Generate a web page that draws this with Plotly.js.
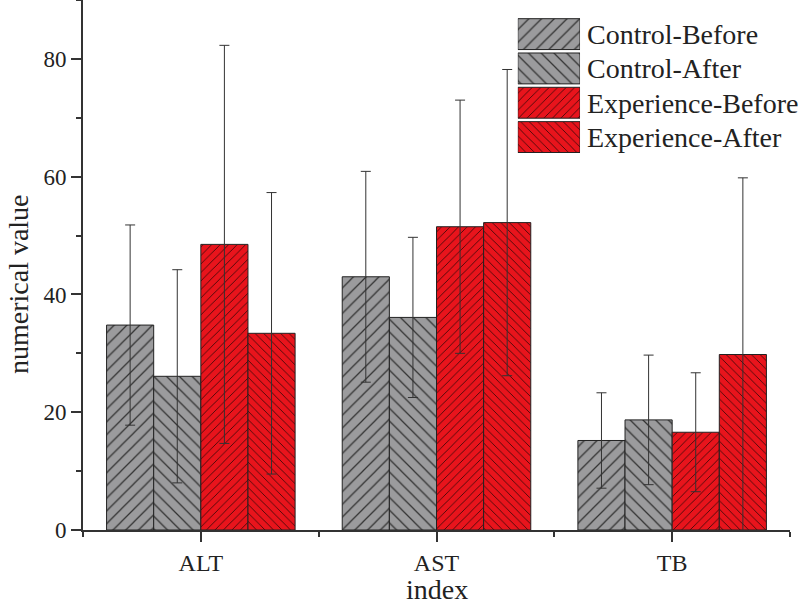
<!DOCTYPE html>
<html>
<head>
<meta charset="utf-8">
<script src="https://cdn.plot.ly/plotly-3.0.1.min.js"></script>
<style>html,body{margin:0;padding:0;background:#fff;}#chart{width:800px;height:600px;}</style>
</head>
<body>
<div id="chart"></div>
<script>
// ---- data ----
var categories = ['ALT', 'AST', 'TB'];
var seriesNames = ['Control-Before', 'Control-After', 'Experience-Before', 'Experience-After'];
var controlBefore = [34.8, 43.0, 15.2];
var controlBeforeErr = [17.0, 17.9, 8.1];
var controlAfter = [26.1, 36.1, 18.7];
var controlAfterErr = [18.1, 13.6, 11.0];
var experienceBefore = [48.5, 51.5, 16.6];
var experienceBeforeErr = [33.8, 21.5, 10.1];
var experienceAfter = [33.4, 52.2, 29.8];
var experienceAfterErr = [23.9, 26.0, 30.0];
var yTickVals = [0, 20, 40, 60, 80];
var xTitle = 'index';
var yTitle = 'numerical value';

// ---- styles ----
var GREY = '#9b9b9d', RED = '#e8141c';
var FONT = 'Liberation Serif, Times New Roman, serif';
var styles = [
  {color: GREY, shape: '/', size: 9, fg: '#333333'},
  {color: GREY, shape: '\\', size: 9, fg: '#333333'},
  {color: RED, shape: '/', size: 6, fg: '#3a0808'},
  {color: RED, shape: '\\', size: 6, fg: '#3a0808'}
];
var values = [controlBefore, controlAfter, experienceBefore, experienceAfter];
var errors = [controlBeforeErr, controlAfterErr, experienceBeforeErr, experienceAfterErr];
var xIdx = categories.map(function (c, i) { return i; });

function markerFor(k) {
  return {
    color: styles[k].color,
    line: {color: '#222222', width: 1},
    pattern: {shape: styles[k].shape, size: styles[k].size, solidity: 0.14,
              fgcolor: styles[k].fg, bgcolor: styles[k].color, fillmode: 'replace'}
  };
}

var traces = values.map(function (v, k) {
  return {
    type: 'bar', x: xIdx, y: v, name: seriesNames[k], showlegend: false,
    marker: markerFor(k),
    error_y: {type: 'data', array: errors[k], visible: true, color: '#333333', thickness: 1, width: 5},
    hoverinfo: 'skip'
  };
});

// custom legend: one swatch bar per series in a small subplot
seriesNames.forEach(function (name, k) {
  traces.push({
    type: 'bar', orientation: 'h', xaxis: 'x2', yaxis: 'y2',
    y: [name], x: [1], width: 0.9, offsetgroup: 'legend',
    showlegend: false, hoverinfo: 'skip',
    marker: markerFor(k)
  });
});

var titleFont = {size: 28, family: FONT, color: '#222222'};

var layout = {
  width: 800, height: 600,
  margin: {l: 83, r: 10, t: 0, b: 70},
  paper_bgcolor: '#ffffff', plot_bgcolor: '#ffffff',
  font: {family: FONT, color: '#222222', size: 22},
  barmode: 'group', bargap: 0.2, bargroupgap: 0,
  showlegend: false,
  xaxis: {
    range: [-0.5, 2.5], tickvals: xIdx, ticktext: categories,
    showgrid: false, zeroline: false,
    showline: true, linecolor: '#333333', linewidth: 2,
    ticks: 'outside', ticklen: 10, tickwidth: 2, tickcolor: '#333333',
    minor: {tick0: 0.5, dtick: 1, ticks: 'outside', ticklen: 5, tickwidth: 2, tickcolor: '#333333'},
    tickfont: {size: 24, family: FONT, color: '#222222'}
  },
  yaxis: {
    range: [0, 90], tickvals: yTickVals,
    showgrid: false, zeroline: false,
    showline: true, linecolor: '#333333', linewidth: 2,
    ticks: 'outside', ticklen: 10, tickwidth: 2, tickcolor: '#333333',
    minor: {tick0: 0, dtick: 10, ticks: 'outside', ticklen: 5, tickwidth: 2, tickcolor: '#333333'},
    tickfont: {size: 23, family: FONT, color: '#222222'}
  },
  annotations: [{
    text: yTitle, xref: 'paper', yref: 'paper', x: -0.092, y: 0.464,
    xanchor: 'center', yanchor: 'middle', textangle: -90, showarrow: false,
    font: titleFont
  }, {
    text: xTitle, xref: 'paper', yref: 'paper', x: 0.5, y: -0.112,
    xanchor: 'center', yanchor: 'middle', showarrow: false,
    font: titleFont
  }],
  xaxis2: {
    domain: [0.615, 0.703], anchor: 'y2', range: [0, 1], fixedrange: true,
    showline: false, showgrid: false, zeroline: false, showticklabels: false, ticks: ''
  },
  yaxis2: {
    domain: [0.709, 0.968], anchor: 'x2', side: 'right', type: 'category',
    autorange: 'reversed', fixedrange: true,
    showline: false, showgrid: false, zeroline: false, ticks: '',
    ticklabelstandoff: 6,
    tickfont: {size: 28, family: FONT, color: '#222222'}
  }
};

Plotly.newPlot('chart', traces, layout, {displayModeBar: false, staticPlot: true});
</script>
</body>
</html>
